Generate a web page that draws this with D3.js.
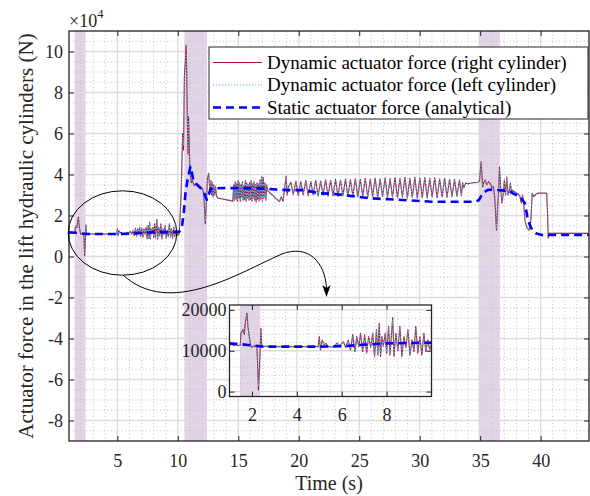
<!DOCTYPE html>
<html><head><meta charset="utf-8">
<script src="https://cdn.jsdelivr.net/npm/d3@7"></script>
<style>body{margin:0;background:#fff}svg{display:block;font-family:"Liberation Serif","Times New Roman",serif}</style>
</head><body><svg id="c" width="590" height="496"></svg>
<script>
// ---------------- DATA ----------------
const timeS = [
1.00,1.10,1.20,1.30,1.40,1.48,1.51,1.60,1.66,1.70,1.78,1.82,1.90,1.95,2.00,2.07,2.15,2.22,2.25,2.29,2.34,2.40,2.44,2.60,3.00,3.50,4.00,4.50,4.95,
5.00,5.05,5.13,5.21,5.30,5.39,5.63,5.78,5.93,6.07,6.18,6.29,6.39,6.49,6.59,6.67,6.76,6.84,6.93,7.02,7.11,7.20,7.29,7.38,7.46,7.55,7.61,7.67,7.73,7.79,7.85,7.94,8.00,8.09,8.15,8.27,8.33,8.41,8.50,8.59,8.68,8.77,8.86,8.95,9.04,9.13,9.22,9.30,9.39,9.48,9.57,9.66,9.75,9.84,9.92,10.00,
10.08,10.13,10.27,10.40,10.47,10.54,10.62,10.68,10.72,10.78,10.84,10.88,10.92,11.00,11.10,11.20,11.35,11.50,11.70,11.90,12.05,12.15,12.22,12.27,12.35,12.45,12.55,12.62,12.68,12.74,12.80,12.86,12.92,12.98,13.05,13.12,13.20,13.30,14.55,
14.62,14.68,14.74,14.80,14.86,14.92,14.98,15.04,15.10,15.16,15.22,15.28,15.34,15.40,15.46,15.52,15.58,15.64,15.70,15.76,15.82,15.88,15.94,16.00,16.06,16.12,16.18,16.24,16.30,16.36,16.42,16.48,16.54,16.60,16.66,16.72,16.80,16.86,16.95,17.00,17.07,17.12,17.20,17.28,17.35,17.45,18.40,18.55,18.70,18.85,18.95,19.05,19.15,
19.35,19.55,19.76,19.96,20.17,20.37,20.58,20.78,20.99,21.19,21.40,21.60,21.81,22.01,22.22,22.42,22.63,22.83,23.04,23.24,23.45,23.65,23.86,24.06,24.27,24.47,24.68,24.88,25.09,25.29,25.50,25.70,25.91,26.11,26.32,26.52,26.73,26.93,27.14,27.34,27.55,27.75,27.96,28.16,28.37,28.57,28.78,28.98,29.19,29.39,29.60,29.80,30.01,30.21,30.42,30.62,30.83,31.03,31.24,31.44,31.65,31.85,32.06,32.26,32.47,32.67,32.88,33.08,33.29,33.45,
33.55,33.65,33.80,34.00,34.40,34.80,34.95,35.07,35.15,35.20,35.30,35.40,35.55,35.70,35.85,35.97,36.10,36.20,36.35,36.45,36.50,36.60,36.70,36.80,36.90,37.00,37.10,37.20,37.30,37.40,37.50,37.60,37.70,37.85,38.00,38.15,38.30,38.40,38.50,38.60,38.70,38.80,38.90,39.05,39.15,39.20,39.30,39.45,39.70,40.00,40.30,40.50,40.58,40.62,40.70,41.00,44.00];

const rightForce = [
11400,11600,11300,11500,11200,11400,14300,15100,14000,16700,19200,16000,12700,11100,10800,11200,11000,11100,7000,400,6100,15500,11000,11100,11000,11050,11000,11050,11000,
13500,10200,12600,11500,11800,11000,10900,11800,11300,12200,10800,12600,10200,13900,9800,13500,11000,14300,9800,13900,9400,13500,10800,14300,8600,15100,8900,16700,8600,13500,11100,14300,9400,16000,8900,18100,8600,14300,10000,16000,8600,13500,10800,15100,8900,12700,9800,16000,9400,13500,8900,14300,9800,12700,10200,11800,
10500,13000,30000,60000,52000,88000,95000,103000,94000,70000,50000,68000,60000,42000,36000,37000,34500,35500,34000,33500,33000,30000,22000,16000,25000,38000,40600,34000,31000,37000,30000,36000,29000,35000,30000,34000,29500,28500,27000,
35000,27500,36500,28000,35500,27000,37000,28500,36000,27000,35000,29000,36500,27500,34500,28000,37000,27000,36000,28500,35000,27500,36000,28000,37000,27000,35500,28500,36500,27500,35000,26500,36000,28000,35500,27000,37500,28000,39000,27000,38500,28500,36000,27500,35000,32000,26800,29000,27000,34000,39200,30000,34000,
36200,30200,36800,29800,36500,30000,37000,29600,36600,30100,37200,29500,36800,29900,37500,29400,37100,29700,37600,29300,37300,29600,37800,29200,37400,29500,38000,29100,37600,29400,38200,28900,37700,29300,38300,28800,37900,29200,38400,28700,38000,29000,38500,28600,38100,28900,38600,28500,38200,28800,38700,28400,38300,28700,38500,28500,38100,28900,38400,28600,37900,29000,38200,28800,37800,29100,37600,29300,37400,29600,
36000,33500,35800,35500,36000,36200,37000,46200,40000,34000,36000,37300,35000,36500,35500,33500,34000,29200,12900,25000,29000,43500,33000,26000,30000,37300,30000,38900,30000,32000,35700,31000,32400,31500,31000,30500,29000,26000,30000,26000,17800,15400,13700,12900,15000,18600,30800,29200,30800,30900,30900,30800,20000,9000,11300,11300,11300];

const leftForce = [
11300,11500,11400,11400,11300,11500,14000,15400,14300,16400,18800,16300,12400,11300,10900,11100,11100,11000,7500,1200,5600,15000,11200,11000,11100,11000,11050,11000,11100,
13200,10400,12400,11600,11700,11100,11000,11700,11400,12000,11000,12400,10400,13600,10000,13300,11200,14000,10000,13600,9600,13200,11000,14000,8900,14800,9200,16300,8900,13200,11300,14000,9700,15700,9200,17600,8900,14000,10200,15700,8900,13200,11000,14800,9200,12400,10000,15700,9700,13200,9200,14000,10000,12400,10400,11900,
10600,12500,29000,58000,54000,86000,93000,99000,92000,72000,52000,66000,58000,41000,36500,36500,34800,35200,34200,33300,32800,30500,23000,17000,24000,37000,40000,34500,31500,36500,30500,35500,29500,34500,30500,33500,30000,28700,27200,
34500,28000,36000,28500,35000,27500,36500,29000,35500,27500,34500,29500,36000,28000,34000,28500,36500,27500,35500,29000,34500,28000,35500,28500,36500,27500,35000,29000,36000,28000,34500,27000,35500,28500,35000,27500,37000,28500,38500,27500,38000,29000,35500,28000,34500,31500,27000,29500,27500,33500,38800,30500,33500,
36000,30400,36500,30000,36300,30200,36700,29800,36400,30300,36900,29700,36600,30100,37200,29600,36900,29900,37300,29500,37000,29800,37500,29400,37200,29700,37700,29300,37400,29600,37900,29100,37500,29500,38000,29000,37700,29400,38100,28900,37800,29200,38200,28800,37900,29100,38300,28700,38000,29000,38400,28600,38100,28900,38200,28700,37900,29100,38100,28800,37700,29200,37900,29000,37600,29300,37400,29500,37200,29700,
35800,33800,35600,35400,35800,36000,36700,45500,39500,34500,35800,37000,35300,36200,35700,33800,33700,29800,14000,24500,28500,42800,33500,26500,29700,37000,30300,38500,30300,31800,35300,31300,32200,31700,31200,30700,29300,26500,29700,26500,18300,15800,14000,13200,15300,19000,30500,29400,30700,30800,30800,30700,21000,10000,11400,11400,11400];

const staticTime = [1.0,1.5,2.0,2.5,4.0,5.0,6.0,7.0,8.0,9.0,10.0,10.1,10.27,10.35,10.5,10.63,10.8,11.04,11.1,11.3,11.6,11.9,12.13,12.3,12.4,12.55,12.7,13.15,14.0,17.0,17.5,18.5,19.2,20.5,21.7,22.8,24.8,25.9,27.5,29.1,31.0,34.6,34.9,35.2,35.6,36.1,36.5,37.4,37.7,38.3,38.7,38.9,39.05,39.3,39.6,40.1,44.0];
const staticForce = [11800,11600,11300,11000,11000,11000,11100,11500,11800,11900,12000,12000,13000,15000,22000,30800,37300,43800,43000,36500,35000,33300,31600,29000,27600,30000,33000,33300,33400,33200,33000,32500,32400,32400,30800,30600,29200,28400,27900,27400,26700,26700,27500,30800,32400,32700,32400,32000,30800,29200,26000,19400,16200,12900,11300,10500,10500];

const shadedBands = [[1.47,2.37],[10.54,12.41],[34.87,36.63]];
const xTicks = [5,10,15,20,25,30,35,40];
const yTicks = [-8,-6,-4,-2,0,2,4,6,8,10];
const insetXTicks = [2,4,6,8];
const insetYTicks = [0,10000,20000];
const legendLabels = ["Dynamic actuator force (right cylinder)","Dynamic actuator force (left cylinder)","Static actuator force (analytical)"];
const xLabel = "Time (s)";
const yLabel = "Actuator force in the lift hydraulic cylinders (N)";

// ---------------- STYLE ----------------
const FONT = "Liberation Serif";
const C_RIGHT="#A2142F", C_LEFT="#4DBEEE", C_STATIC="#0000FF", C_BAND="#e2d4e6", C_AX="#262626";
const svg = d3.select("#c");
const main = {l:69,r:589,t:31,b:441};
const ins = {l:229.5,r:431.5,t:305,b:396.5};

const series = [
  {name:"right", t:timeS, v:rightForce, color:C_RIGHT, w:1.1, dash:null},
  {name:"left", t:timeS, v:leftForce, color:C_LEFT, w:1.1, dash:"1.2,1.8"},
  {name:"static", t:staticTime, v:staticForce, color:C_STATIC, w:2.6, dash:"8,5"}
];

function panel(box, xDom, yDom, scaleV, xMinorStep, yMinorStep, xT, yT, id, opts){
  const x = d3.scaleLinear().domain(xDom).range([box.l,box.r]);
  const y = d3.scaleLinear().domain(yDom).range([box.b,box.t]);
  const g = svg.append("g");
  g.append("rect").attr("x",box.l).attr("y",box.t).attr("width",box.r-box.l).attr("height",box.b-box.t).attr("fill","#fff");
  g.append("clipPath").attr("id",id).append("rect").attr("x",box.l).attr("y",box.t).attr("width",box.r-box.l).attr("height",box.b-box.t);
  const inner = g.append("g").attr("clip-path",`url(#${id})`);
  inner.selectAll(".band").data(shadedBands).join("rect")
    .attr("x",d=>x(d[0])).attr("width",d=>x(d[1])-x(d[0]))
    .attr("y",box.t).attr("height",box.b-box.t).attr("fill",C_BAND);
  const eps=1e-9;
  const xMin = d3.range(Math.ceil(xDom[0]/xMinorStep)*xMinorStep, xDom[1]+eps, xMinorStep).filter(v=>!xT.some(t=>Math.abs(t-v)<eps));
  const yMin = d3.range(Math.ceil(yDom[0]/yMinorStep)*yMinorStep, yDom[1]+eps, yMinorStep).filter(v=>!yT.some(t=>Math.abs(t-v)<eps));
  inner.selectAll(".mx").data(xMin).join("line").attr("x1",d=>x(d)).attr("x2",d=>x(d)).attr("y1",box.t).attr("y2",box.b)
    .attr("stroke","#bdbdbd").attr("stroke-width",0.9).attr("stroke-dasharray","1,2.5");
  inner.selectAll(".my").data(yMin).join("line").attr("y1",d=>y(d)).attr("y2",d=>y(d)).attr("x1",box.l).attr("x2",box.r)
    .attr("stroke","#bdbdbd").attr("stroke-width",0.9).attr("stroke-dasharray","1,2.5");
  inner.selectAll(".gx").data(xT).join("line").attr("x1",d=>x(d)).attr("x2",d=>x(d)).attr("y1",box.t).attr("y2",box.b)
    .attr("stroke","#dcdcdc").attr("stroke-width",1.3);
  inner.selectAll(".gy").data(yT).join("line").attr("y1",d=>y(d)).attr("y2",d=>y(d)).attr("x1",box.l).attr("x2",box.r)
    .attr("stroke","#dcdcdc").attr("stroke-width",1.3);
  series.forEach(s=>{
    const pts = s.t.map((t,i)=>[t, s.v[i]/scaleV]);
    const line = d3.line().x(d=>x(d[0])).y(d=>y(d[1]));
    const p = inner.append("path").attr("d",line(pts)).attr("fill","none").attr("stroke",s.color).attr("stroke-width",s.w).attr("stroke-linejoin","round");
    if(s.dash) p.attr("stroke-dasharray",s.dash);
  });
  const fs = opts.fs;
  const ax = d3.axisBottom(x).tickValues(xT).tickSize(-5).tickSizeOuter(0).tickPadding(opts.xPad).tickFormat(d=>String(d));
  const gx = g.append("g").attr("transform",`translate(0,${box.b})`).call(ax);
  const ay = d3.axisLeft(y).tickValues(yT).tickSize(-5).tickSizeOuter(0).tickPadding(opts.yPad).tickFormat(d=>String(d));
  const gy = g.append("g").attr("transform",`translate(${box.l},0)`).call(ay);
  const at = d3.axisTop(x).tickValues(xT).tickSize(-5).tickSizeOuter(0).tickFormat("");
  const gt = g.append("g").attr("transform",`translate(0,${box.t})`).call(at);
  const ar = d3.axisRight(y).tickValues(yT).tickSize(-5).tickSizeOuter(0).tickFormat("");
  const gr = g.append("g").attr("transform",`translate(${box.r},0)`).call(ar);
  [gx,gy,gt,gr].forEach(a=>{
    a.attr("font-family",FONT).attr("font-size",fs);
    a.select(".domain").remove();
    a.selectAll(".tick line").attr("stroke",C_AX).attr("stroke-width",1);
    a.selectAll("text").attr("fill","#262626");
  });
  g.append("rect").attr("x",box.l).attr("y",box.t).attr("width",box.r-box.l).attr("height",box.b-box.t)
    .attr("fill","none").attr("stroke",C_AX).attr("stroke-width",1.3);
  return {x,y,g};
}

const M = panel(main,[1,44],[-9,11],1e4,1,0.5,xTicks,yTicks,"clipMain",{fs:18,xPad:13,yPad:6});

svg.append("text").attr("x",329).attr("y",490).attr("text-anchor","middle").attr("font-family",FONT).attr("font-size",20).attr("fill","#262626").text(xLabel);
svg.append("text").attr("transform","translate(33,236) rotate(-90)").attr("text-anchor","middle").attr("font-family",FONT).attr("font-size",21).attr("fill","#262626").text(yLabel);
const ex = svg.append("text").attr("x",69).attr("y",27).attr("font-family",FONT).attr("font-size",18).attr("fill","#262626");
ex.append("tspan").text("\u00d710");
ex.append("tspan").attr("dy",-9).attr("font-size",12.5).text("4");

const lg = svg.append("g").attr("font-family",FONT);
lg.append("rect").attr("x",209).attr("y",47).attr("width",379).attr("height",72).attr("fill","#fff").attr("stroke",C_AX).attr("stroke-width",1);
legendLabels.forEach((lab,i)=>{
  const yy = 62.5 + i*22.5;
  const s = series[i];
  const l = lg.append("line").attr("x1",213).attr("x2",262).attr("y1",yy).attr("y2",yy).attr("stroke",s.color).attr("stroke-width",s.w);
  if(s.dash) l.attr("stroke-dasharray",s.dash);
  lg.append("text").attr("x",267).attr("y",yy+6.3).attr("font-size",19).attr("fill","#000").text(lab);
});

svg.append("ellipse").attr("cx",122.5).attr("cy",233).attr("rx",54.3).attr("ry",42.2).attr("fill","none").attr("stroke","#000").attr("stroke-width",1);
svg.append("path").attr("d","M123,275 C170,318 240,272 282,254 C308,244 325,262 326.5,288").attr("fill","none").attr("stroke","#000").attr("stroke-width",1);
svg.append("path").attr("d","M322.3,285 L326.5,297 L330.7,285 L326.5,288 Z").attr("fill","#000");

const I = panel(ins,[1,10],[-1200,21200],1,0.5,2000,insetXTicks,insetYTicks,"clipInset",{fs:18,xPad:12,yPad:3});
</script></body></html>
